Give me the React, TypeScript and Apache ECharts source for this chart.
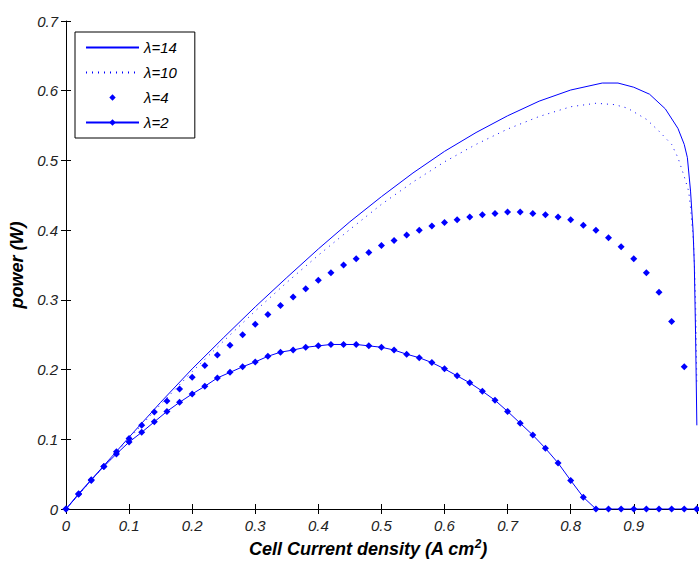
import React, { useEffect, useRef } from "react";
import * as echarts from "echarts";

const FONT = "'Liberation Sans', Arial, sans-serif";
const BLUE = "#0000ff";

// λ=14 (solid line)
const x14 = [0, 0.05, 0.1, 0.15, 0.2, 0.25, 0.3, 0.35, 0.4, 0.45, 0.5, 0.55, 0.6, 0.65, 0.7, 0.75, 0.8, 0.85, 0.875, 0.9, 0.925, 0.95, 0.97, 0.98, 0.985, 0.99, 0.994, 0.996, 0.998, 1.0];
const p14 = [0, 0.052, 0.103, 0.153, 0.201, 0.246, 0.29, 0.332, 0.373, 0.412, 0.448, 0.482, 0.513, 0.54, 0.564, 0.585, 0.601, 0.611, 0.611, 0.605, 0.595, 0.574, 0.546, 0.523, 0.504, 0.456, 0.4, 0.35, 0.25, 0.12];

// λ=10 (dotted line)
const x10 = [0, 0.05, 0.1, 0.15, 0.2, 0.25, 0.3, 0.35, 0.4, 0.45, 0.5, 0.55, 0.6, 0.65, 0.7, 0.75, 0.8, 0.84, 0.87, 0.89, 0.92, 0.94, 0.96, 0.97, 0.98, 0.987, 0.99, 0.995, 0.998, 1.0];
const p10 = [0, 0.051, 0.101, 0.15, 0.197, 0.241, 0.284, 0.325, 0.364, 0.401, 0.437, 0.469, 0.498, 0.523, 0.545, 0.563, 0.577, 0.582, 0.58, 0.575, 0.559, 0.542, 0.523, 0.504, 0.477, 0.456, 0.432, 0.38, 0.3, 0.18];

// λ=4 and λ=2 sampled every 0.02
const x02 = [0, 0.02, 0.04, 0.06, 0.08, 0.1, 0.12, 0.14, 0.16, 0.18, 0.2, 0.22, 0.24, 0.26, 0.28, 0.3, 0.32, 0.34, 0.36, 0.38, 0.4, 0.42, 0.44, 0.46, 0.48, 0.5, 0.52, 0.54, 0.56, 0.58, 0.6, 0.62, 0.64, 0.66, 0.68, 0.7, 0.72, 0.74, 0.76, 0.78, 0.8, 0.82, 0.84, 0.86, 0.88, 0.9, 0.92, 0.94, 0.96, 0.98, 1.0];
const p4 = [0, 0.021, 0.041, 0.061, 0.082, 0.101, 0.12, 0.139, 0.155, 0.172, 0.189, 0.206, 0.221, 0.235, 0.25, 0.265, 0.279, 0.292, 0.304, 0.316, 0.328, 0.339, 0.35, 0.359, 0.368, 0.378, 0.385, 0.393, 0.4, 0.406, 0.411, 0.415, 0.419, 0.422, 0.424, 0.426, 0.426, 0.424, 0.422, 0.419, 0.415, 0.407, 0.4, 0.389, 0.376, 0.359, 0.339, 0.311, 0.269, 0.204, 0];
const p2 = [0, 0.022, 0.042, 0.061, 0.079, 0.096, 0.11, 0.125, 0.14, 0.153, 0.165, 0.176, 0.188, 0.196, 0.204, 0.211, 0.219, 0.225, 0.228, 0.232, 0.234, 0.236, 0.236, 0.236, 0.234, 0.232, 0.228, 0.222, 0.217, 0.21, 0.201, 0.191, 0.181, 0.169, 0.156, 0.14, 0.123, 0.106, 0.087, 0.066, 0.041, 0.017, 0, 0, 0, 0, 0, 0, 0, 0, 0];

const yTicks = [0, 0.1, 0.2, 0.3, 0.4, 0.5, 0.6, 0.7];

const zip = (xs: number[], ys: number[]) => xs.map((x, i) => [x, ys[i]]);

export default function App() {
  const ref = useRef<HTMLDivElement>(null);
  useEffect(() => {
    const chart = echarts.init(ref.current!, null, { renderer: "svg" });
    const tickStyle = { fontFamily: FONT, fontStyle: "italic" as const, fontSize: 15, color: "#222" };
    const titleStyle = { fontFamily: FONT, fontStyle: "italic" as const, fontWeight: "bold" as const, fontSize: 18, color: "#000" };
    const axisLine = { show: true, lineStyle: { color: "#000", width: 1 } };
    const axisTick = { show: true, inside: true, length: 5, lineStyle: { color: "#000", width: 1 } };
    chart.setOption({
      animation: false,
      backgroundColor: "#fff",
      grid: { left: 66, right: -1, top: 21, bottom: 53, containLabel: false, outerBoundsMode: "none" },
      legend: {
        orient: "vertical",
        left: 75,
        top: 32,
        padding: [8, 18, 8, 10],
        itemWidth: 53,
        itemHeight: 8,
        itemGap: 10,
        borderColor: "#000",
        borderWidth: 1,
        borderRadius: 0,
        backgroundColor: "#fff",
        textStyle: { fontFamily: FONT, fontStyle: "italic", fontSize: 15, color: "#000" },
        data: [
          { name: "λ=14", itemStyle: { opacity: 0 } },
          { name: "λ=10", itemStyle: { opacity: 0 } },
          { name: "λ=4", lineStyle: { opacity: 0 } },
          { name: "λ=2" },
        ],
      },
      xAxis: [
        {
          type: "value",
          min: 0,
          max: 1.005,
          interval: 0.1,
          position: "bottom",
          axisLine,
          axisTick,
          splitLine: { show: false },
          axisLabel: {
            ...tickStyle,
            margin: 9,
            formatter: (v: number) => (v > 0.95 ? "" : String(Math.round(v * 10) / 10)),
          },
          name: "{t|Cell Current density (A cm}{s|2}{t|)}",
          nameLocation: "middle",
          nameGap: 29,
          nameTextStyle: {
            padding: [0, 30, 0, 0],
            rich: {
              t: { ...titleStyle, lineHeight: 22 },
              s: { ...titleStyle, fontSize: 12, verticalAlign: "top", lineHeight: 12 },
            },
          },
        },
        {
          type: "value",
          min: 0,
          max: 1.005,
          interval: 0.1,
          position: "top",
          axisLine,
          axisTick,
          splitLine: { show: false },
          axisLabel: { show: false },
        },
      ],
      yAxis: [
        {
          type: "value",
          min: 0,
          max: 0.7,
          interval: 0.1,
          position: "left",
          axisLine,
          axisTick,
          splitLine: { show: false },
          axisLabel: {
            ...tickStyle,
            margin: 8,
            formatter: (v: number) => {
              const t = yTicks.find((k) => Math.abs(k - v) < 1e-6);
              return t === undefined ? "" : String(t);
            },
          },
          name: "power (W)",
          nameLocation: "middle",
          nameGap: 35,
          nameTextStyle: titleStyle,
        },
        {
          type: "value",
          min: 0,
          max: 0.7,
          interval: 0.1,
          position: "right",
          axisLine: { show: false },
          axisTick,
          splitLine: { show: false },
          axisLabel: { show: false },
        },
      ],
      series: [
        {
          name: "λ=14",
          type: "line",
          data: zip(x14, p14),
          symbol: "none",
          lineStyle: { color: BLUE, width: 1 },
          itemStyle: { color: BLUE },
        },
        {
          name: "λ=10",
          type: "line",
          data: zip(x10, p10),
          symbol: "none",
          lineStyle: { color: BLUE, width: 1, type: [1, 5] },
          itemStyle: { color: BLUE },
        },
        {
          name: "λ=4",
          type: "line",
          data: zip(x02, p4),
          symbol: "diamond",
          symbolSize: 7,
          showSymbol: true,
          showAllSymbol: true,
          lineStyle: { color: BLUE, width: 0, opacity: 0 },
          itemStyle: { color: BLUE },
        },
        {
          name: "λ=2",
          type: "line",
          data: zip(x02, p2),
          symbol: "diamond",
          symbolSize: 7,
          showSymbol: true,
          showAllSymbol: true,
          lineStyle: { color: BLUE, width: 1 },
          itemStyle: { color: BLUE },
        },
      ],
    });
    return () => chart.dispose();
  }, []);
  return <div ref={ref} style={{ position: "absolute", left: 0, top: 0, width: 699, height: 562 }} />;
}
